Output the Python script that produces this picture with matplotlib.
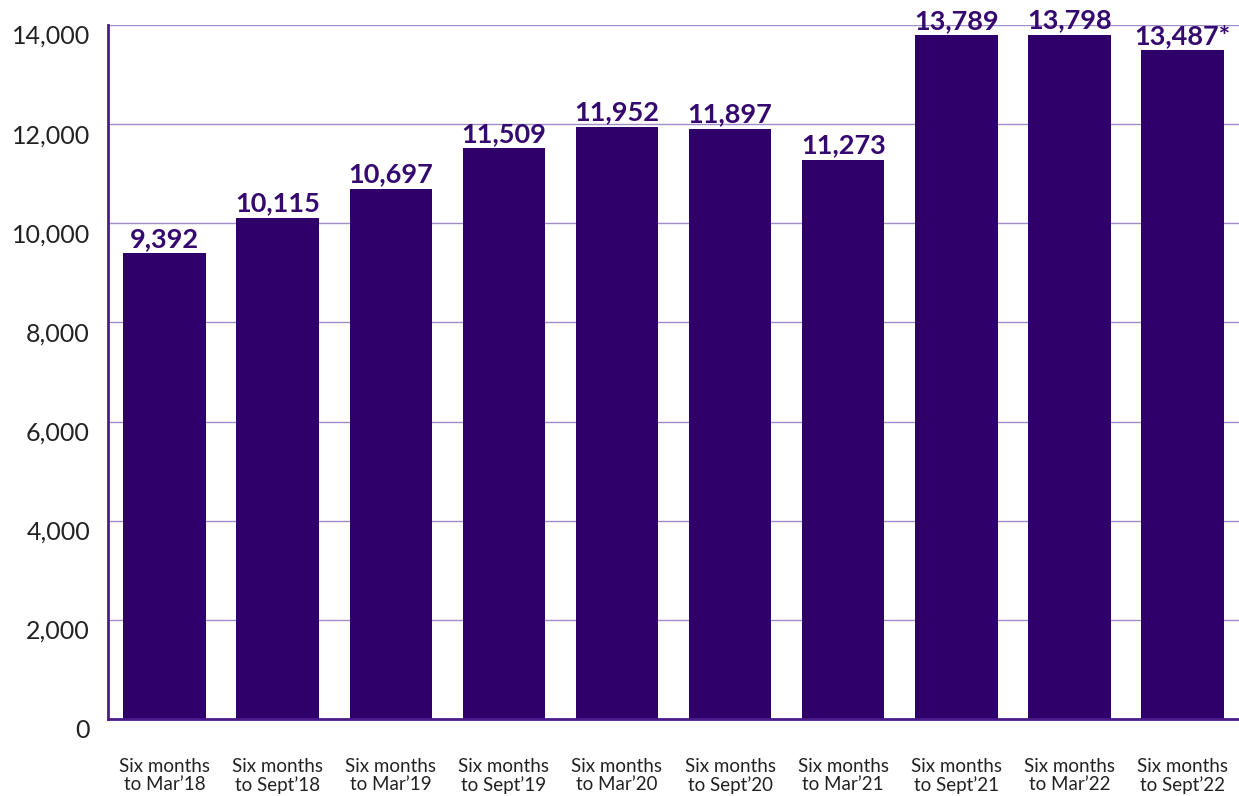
import matplotlib.pyplot as plt
from matplotlib.ticker import FuncFormatter

# Data
periods = ["Six months\nto Mar\u201918", "Six months\nto Sept\u201918", "Six months\nto Mar\u201919",
           "Six months\nto Sept\u201919", "Six months\nto Mar\u201920", "Six months\nto Sept\u201920",
           "Six months\nto Mar\u201921", "Six months\nto Sept\u201921", "Six months\nto Mar\u201922",
           "Six months\nto Sept\u201922"]
values = [9392, 10115, 10697, 11509, 11952, 11897, 11273, 13789, 13798, 13487]
value_labels = ["9,392", "10,115", "10,697", "11,509", "11,952", "11,897", "11,273",
                "13,789", "13,798", "13,487*"]

bar_color = "#30006a"
label_color = "#35096f"
grid_color = "#a08cc8"
axis_color = "#4a1c8c"

plt.rcParams['font.family'] = ['Lato', 'DejaVu Sans']

fig = plt.figure(figsize=(12.39, 7.96), dpi=100)
ax = fig.add_axes([0.0872, 0.0967, 0.9128, 0.8719])

x = range(len(values))
bars = ax.bar(x, values, width=0.73, color=bar_color, zorder=3)

for xi, v, lab in zip(x, values, value_labels):
    ax.annotate(lab, (xi, v), xytext=(0, 2), textcoords="offset points",
                ha="center", va="bottom", fontsize=19.5, fontweight="bold",
                color=label_color, annotation_clip=False, zorder=4)

ax.set_xlim(-0.5, len(values) - 0.5)
ax.set_ylim(0, 14000)
ax.set_yticks(range(0, 14001, 2000))
ax.yaxis.set_major_formatter(FuncFormatter(lambda v, p: f"{int(v):,}"))
ax.set_xticks(list(x))
ax.set_xticklabels(periods, fontsize=13.5, color="#222222", linespacing=1.1)

ax.tick_params(axis="y", length=0, pad=13, labelsize=18, labelcolor="#222222")
ax.tick_params(axis="x", length=0, pad=28)
for t in ax.get_yticklabels():
    t.set_va("top")
    t.set_y(-0.004)

ax.grid(axis="y", color=grid_color, linewidth=1, zorder=0)
for side in ["top", "right"]:
    ax.spines[side].set_visible(False)
for side in ["left", "bottom"]:
    ax.spines[side].set_color(axis_color)
    ax.spines[side].set_linewidth(2)
    ax.spines[side].set_zorder(5)

fig.savefig("out.png", dpi=100)
